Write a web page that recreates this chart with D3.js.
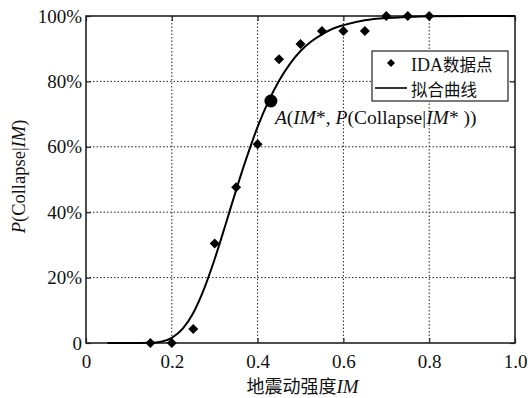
<!DOCTYPE html>
<html><head><meta charset="utf-8">
<script src="https://cdn.jsdelivr.net/npm/d3@7"></script>
<style>body{margin:0;background:#fff}</style>
</head><body>
<svg id="c" width="528" height="398"></svg>
<script>
// IDA data points (IM, P in %)
const idaIM = [0.15,0.2,0.25,0.3,0.35,0.4,0.45,0.5,0.55,0.6,0.65,0.7,0.75,0.8];
const idaP  = [0,0,4.3,30.4,47.6,60.8,86.8,91.4,95.4,95.4,95.4,100,100,100];
// fitted curve
const fitIM = [0.05,0.1,0.15,0.175,0.2,0.225,0.25,0.275,0.3,0.325,0.35,0.375,0.4,0.425,0.45,0.475,0.5,0.525,0.55,0.575,0.6,0.65,0.7,0.75,0.8,0.9,1.0];
const fitP  = [0,0,0.1,0.4,1.6,4.3,9.2,16.5,25.7,36.1,46.8,56.9,66.1,73.8,80.2,85.3,89.3,92.2,94.4,96.1,97.2,98.7,99.4,99.7,99.9,100,100];
// point A
const ptA = {im:0.431, p:74.0};
const xTicks = [0,0.2,0.4,0.6,0.8,1.0];
const xTickLabels = ["0","0.2","0.4","0.6","0.8","1.0"];
const yTicks = [0,20,40,60,80,100];
const yTickLabels = ["0","20%","40%","60%","80%","100%"];
const legendLabels = ["IDA数据点","拟合曲线"];

const svg = d3.select("#c");
const L=86, R=515, T=16, B=343;
const x = d3.scaleLinear().domain([0,1]).range([L,R]);
const y = d3.scaleLinear().domain([0,100]).range([B,T]);
const serif = "'Liberation Serif','Times New Roman',serif";
const cjk = "'Noto Sans CJK SC',sans-serif";

// grid
const g = svg.append("g");
g.selectAll(".gx").data(xTicks.slice(1,-1)).enter().append("line")
 .attr("x1",d=>x(d)).attr("x2",d=>x(d)).attr("y1",T).attr("y2",B)
 .attr("stroke","#222").attr("stroke-width",1).attr("stroke-dasharray","1.5,2");
g.selectAll(".gy").data(yTicks.slice(1,-1)).enter().append("line")
 .attr("y1",d=>y(d)).attr("y2",d=>y(d)).attr("x1",L).attr("x2",R)
 .attr("stroke","#222").attr("stroke-width",1).attr("stroke-dasharray","1.5,2");

// axes
const ax = d3.axisBottom(x).tickValues(xTicks).tickFormat((d,i)=>xTickLabels[i]).tickSizeInner(-5).tickSizeOuter(0).tickPadding(12);
const ay = d3.axisLeft(y).tickValues(yTicks).tickFormat((d,i)=>yTickLabels[i]).tickSizeInner(-5).tickSizeOuter(0).tickPadding(4);
const axT = d3.axisTop(x).tickValues(xTicks).tickFormat("").tickSizeInner(-5).tickSizeOuter(0);
const ayR = d3.axisRight(y).tickValues(yTicks).tickFormat("").tickSizeInner(-5).tickSizeOuter(0);
function style(sel){
  sel.selectAll("path").remove();
  sel.selectAll("line").attr("stroke","#222").attr("stroke-width",1.2);
  sel.selectAll("text").attr("font-family",serif).attr("font-size",19).attr("fill","#111");
}
svg.append("g").attr("transform",`translate(0,${B})`).call(ax).call(style);
svg.append("g").attr("transform",`translate(${L},0)`).call(ay).call(style);
svg.append("g").attr("transform",`translate(0,${T})`).call(axT).call(style);
svg.append("g").attr("transform",`translate(${R},0)`).call(ayR).call(style);
svg.append("rect").attr("x",L).attr("y",T).attr("width",R-L).attr("height",B-T)
 .attr("fill","none").attr("stroke","#222").attr("stroke-width",1.6);

// curve
const line = d3.line().x(d=>x(d[0])).y(d=>y(d[1])).curve(d3.curveMonotoneX);
svg.append("path").datum(fitIM.map((v,i)=>[v,fitP[i]])).attr("d",line)
 .attr("fill","none").attr("stroke","#000").attr("stroke-width",2);

// diamonds
const dia = (s)=>`M0,${-s}L${s},0L0,${s}L${-s},0Z`;
svg.selectAll(".pt").data(idaIM.map((v,i)=>[v,idaP[i]])).enter().append("path")
 .attr("d",dia(5)).attr("transform",d=>`translate(${x(d[0])},${y(d[1])})`).attr("fill","#000");

// point A
svg.append("circle").attr("cx",x(ptA.im)).attr("cy",y(ptA.p)).attr("r",6.5).attr("fill","#000");
const ann = svg.append("text").attr("x",x(ptA.im)+4).attr("y",y(ptA.p)+23)
 .attr("font-family",serif).attr("font-size",19.5).attr("fill","#111");
ann.append("tspan").attr("font-style","italic").text("A");
ann.append("tspan").text("(");
ann.append("tspan").attr("font-style","italic").text("IM");
ann.append("tspan").text("*, ");
ann.append("tspan").attr("font-style","italic").text("P");
ann.append("tspan").text("(Collapse|");
ann.append("tspan").attr("font-style","italic").text("IM");
ann.append("tspan").text("* ))");

// legend
const lg = svg.append("g");
lg.append("rect").attr("x",372).attr("y",51).attr("width",136).attr("height",50)
 .attr("fill","#fff").attr("stroke","#222").attr("stroke-width",1.2);
lg.append("path").attr("d",dia(4)).attr("transform","translate(391,63)").attr("fill","#000");
lg.append("line").attr("x1",375).attr("x2",407).attr("y1",88).attr("y2",88).attr("stroke","#000").attr("stroke-width",1.6);
const t1 = lg.append("text").attr("x",411).attr("y",70.5).attr("font-size",18).attr("fill","#111");
t1.append("tspan").attr("font-family",serif).text("IDA");
t1.append("tspan").attr("font-family",cjk).attr("font-size",16.5).text("数据点");
lg.append("text").attr("x",411).attr("y",95.5).attr("font-family",cjk).attr("font-size",16.5).attr("fill","#111").text(legendLabels[1]);

// axis titles
const xt = svg.append("text").attr("x",(L+R)/2+2).attr("y",393).attr("text-anchor","middle").attr("fill","#111");
xt.append("tspan").attr("font-family",cjk).attr("font-size",18).text("地震动强度");
xt.append("tspan").attr("font-family",serif).attr("font-style","italic").attr("font-size",19).text("IM");
const yt = svg.append("text").attr("transform",`translate(25,${(T+B)/2-3}) rotate(-90)`).attr("text-anchor","middle")
 .attr("font-family",serif).attr("font-size",18.5).attr("fill","#111");
yt.append("tspan").attr("font-style","italic").text("P");
yt.append("tspan").text("(Collapse|");
yt.append("tspan").attr("font-style","italic").text("IM");
yt.append("tspan").text(")");
</script>
</body></html>
